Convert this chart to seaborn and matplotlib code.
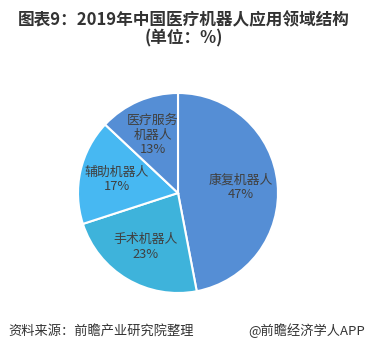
import matplotlib
matplotlib.use("Agg")
import matplotlib.pyplot as plt
import seaborn as sns

# data
categories = ["康复机器人", "手术机器人", "辅助机器人", "医疗服务\n机器人"]
shares = [47, 23, 17, 13]
colors = ["#558ED5", "#3EB3DB", "#47B8F2", "#558ED5"]

title = "图表9：2019年中国医疗机器人应用领域结构\n(单位：%)"
source = "资料来源：前瞻产业研究院整理"
credit = "@前瞻经济学人APP"

sns.set_style("white")
plt.rcParams["font.family"] = ["Noto Sans CJK SC", "DejaVu Sans"]

fig = plt.figure(figsize=(3.67, 3.52), dpi=100)
ax = fig.add_axes([(178 - 100) / 367, 1 - (193 + 100) / 352, 200 / 367, 200 / 352])

labels_iter = iter(categories)


def fmt(pct):
    return f"{next(labels_iter)}\n{pct:.0f}%"


wedges, texts, autotexts = ax.pie(
    shares,
    colors=colors,
    startangle=90,
    counterclock=False,
    autopct=fmt,
    pctdistance=0.63,
    wedgeprops=dict(edgecolor="white", linewidth=1.5),
    textprops=dict(color="#404040", fontsize=9.3, linespacing=1.15),
)
ax.set_aspect("equal")
ax.set_xlim(-1.0, 1.0)
ax.set_ylim(-1.0, 1.0)

fig.text(0.5, 1 - 29 / 352, title, ha="center", va="center", fontsize=12,
         fontweight="bold", color="#333333", linespacing=1.0)
fig.text(8 / 367, 1 - 331 / 352, source, ha="left", va="center", fontsize=9.5,
         color="#333333")
fig.text(365 / 367, 1 - 331 / 352, credit, ha="right", va="center", fontsize=9.5,
         color="#333333")

fig.savefig("out.png", dpi=100, facecolor="white")
